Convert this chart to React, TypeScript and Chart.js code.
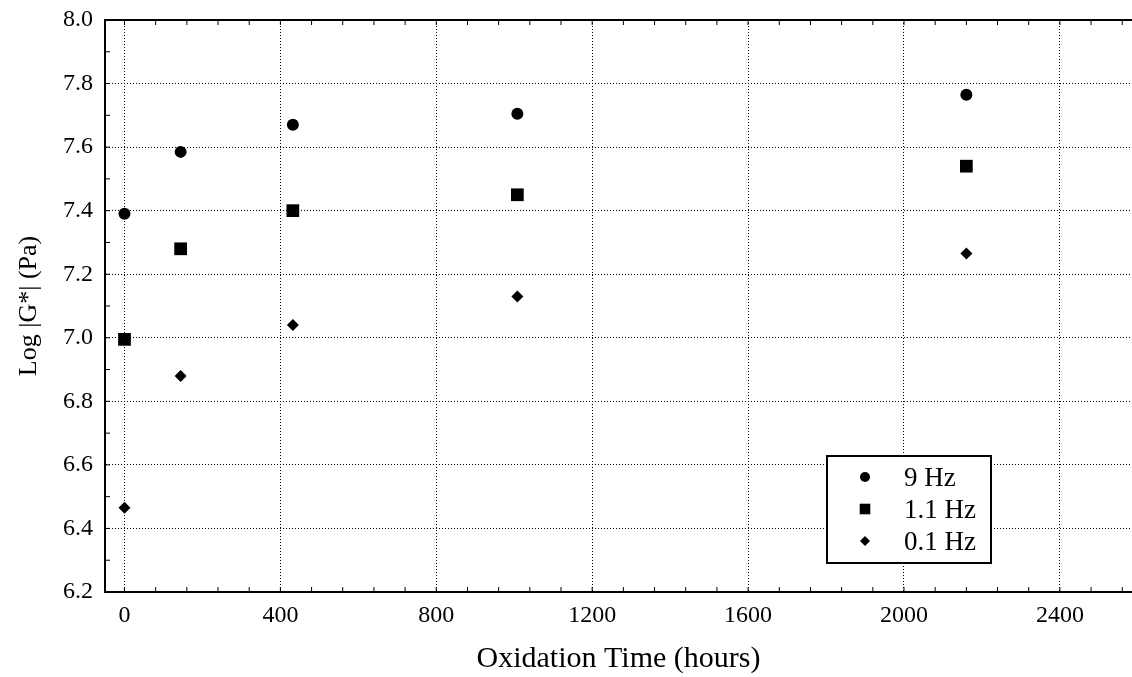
import React, { useEffect, useRef } from "react";
import { Chart, registerables } from "chart.js";

Chart.register(...registerables);

const xValues = [0, 144, 432, 1008, 2160];
const hz9 = [7.39, 7.585, 7.67, 7.705, 7.765];
const hz11 = [6.995, 7.28, 7.4, 7.45, 7.54];
const hz01 = [6.465, 6.88, 7.04, 7.13, 7.265];
const seriesLabels = ["9 Hz", "1.1 Hz", "0.1 Hz"];
const xTicks = [0, 400, 800, 1200, 1600, 2000, 2400];
const yTicks = [6.2, 6.4, 6.6, 6.8, 7.0, 7.2, 7.4, 7.6, 7.8, 8.0];
const xMinor = [80, 160, 240, 320, 480, 560, 640, 720, 880, 960, 1040, 1120, 1280, 1360, 1440, 1520, 1680, 1760, 1840, 1920, 2080, 2160, 2240, 2320, 2480, 2560];
const yMinor = [6.3, 6.5, 6.7, 6.9, 7.1, 7.3, 7.5, 7.7, 7.9];

const FONT = "'Liberation Serif', 'Times New Roman', serif";

function drawMarker(ctx: CanvasRenderingContext2D, style: string, x: number, y: number, r: number) {
  ctx.beginPath();
  if (style === "circle") {
    ctx.arc(x, y, r, 0, Math.PI * 2);
  } else if (style === "rect") {
    const s = r * Math.SQRT1_2;
    ctx.rect(x - s, y - s, 2 * s, 2 * s);
  } else {
    ctx.moveTo(x - r, y);
    ctx.lineTo(x, y - r);
    ctx.lineTo(x + r, y);
    ctx.lineTo(x, y + r);
    ctx.closePath();
  }
  ctx.fill();
}

const framePlugin = {
  id: "frame",
  afterDraw(chart: any) {
    const { ctx, chartArea } = chart;
    const xs = chart.scales.x;
    const ys = chart.scales.y;
    ctx.save();
    ctx.strokeStyle = "#000";
    ctx.lineWidth = 2;
    ctx.beginPath();
    ctx.moveTo(chartArea.left - 1, chartArea.top);
    ctx.lineTo(chartArea.right, chartArea.top);
    ctx.stroke();
    ctx.lineWidth = 1;
    ctx.beginPath();
    const tl = 5;
    [...xMinor, ...xTicks].forEach((v) => {
      const px = xs.getPixelForValue(v);
      ctx.moveTo(px, chartArea.bottom);
      ctx.lineTo(px, chartArea.bottom - tl);
      ctx.moveTo(px, chartArea.top);
      ctx.lineTo(px, chartArea.top + tl);
    });
    [...yMinor, ...yTicks].forEach((v) => {
      const py = ys.getPixelForValue(v);
      ctx.moveTo(chartArea.left, py);
      ctx.lineTo(chartArea.left + tl, py);
    });
    ctx.stroke();

    // legend
    const bx = chartArea.left + 722;
    const by = chartArea.top + 436;
    const bw = 164;
    const bh = 107;
    ctx.fillStyle = "#fff";
    ctx.fillRect(bx, by, bw, bh);
    ctx.lineWidth = 2;
    ctx.strokeStyle = "#000";
    ctx.strokeRect(bx, by, bw, bh);
    ctx.fillStyle = "#000";
    ctx.font = `27px ${FONT}`;
    ctx.textBaseline = "middle";
    ctx.textAlign = "left";
    chart.data.datasets.forEach((ds: any, i: number) => {
      const rowY = by + 21 + i * 32;
      drawMarker(ctx, ds.pointStyle, bx + 38, rowY, ds.pointStyle === "circle" ? 5 : ds.pointStyle === "rect" ? 7.5 : 5);
      ctx.fillText(ds.label, bx + 77, rowY + 2);
    });
    ctx.restore();
  },
};

export default function App() {
  const ref = useRef<HTMLCanvasElement | null>(null);
  useEffect(() => {
    if (!ref.current) return;
    const mk = (ys: number[]) => xValues.map((x, i) => ({ x, y: ys[i] }));
    const chart = new Chart(ref.current, {
      type: "scatter",
      data: {
        datasets: [
          { label: seriesLabels[0], data: mk(hz9), pointStyle: "circle", pointRadius: 6, backgroundColor: "#000", borderColor: "#000", borderWidth: 0 },
          { label: seriesLabels[1], data: mk(hz11), pointStyle: "rect", pointRadius: 9, backgroundColor: "#000", borderColor: "#000", borderWidth: 0 },
          { label: seriesLabels[2], data: mk(hz01), pointStyle: "rectRot", pointRadius: 6, backgroundColor: "#000", borderColor: "#000", borderWidth: 0 },
        ],
      },
      options: {
        animation: false,
        responsive: true,
        maintainAspectRatio: false,
        layout: { autoPadding: false, padding: { top: 20, right: 0, left: 0, bottom: 0 } },
        plugins: { legend: { display: false }, tooltip: { enabled: false } },
        scales: {
          x: {
            type: "linear",
            min: -50,
            max: 2585,
            afterBuildTicks: (s: any) => {
              s.ticks = xTicks.map((v) => ({ value: v }));
            },
            afterFit: (s: any) => {
              s.height = 85;
              s.paddingLeft = 0;
              s.paddingRight = 0;
              s.paddingTop = 0;
              s.paddingBottom = 0;
            },
            ticks: { color: "#000", font: { family: FONT, size: 24 }, padding: 9, maxRotation: 0, autoSkip: false, callback: (v: any) => String(v) },
            grid: { color: "#000", lineWidth: 1, drawTicks: false },
            border: { display: true, color: "#000", width: 2, dash: [1, 2] },
            title: { display: true, text: "Oxidation Time (hours)", color: "#000", font: { family: FONT, size: 30, weight: "normal" }, padding: { top: 0, bottom: 0 } },
          },
          y: {
            type: "linear",
            min: 6.2,
            max: 8.0,
            afterBuildTicks: (s: any) => {
              s.ticks = yTicks.map((v) => ({ value: v }));
            },
            afterFit: (s: any) => {
              s.width = 105;
              s.paddingLeft = 0;
              s.paddingRight = 0;
              s.paddingTop = 0;
              s.paddingBottom = 0;
            },
            ticks: { color: "#000", font: { family: FONT, size: 24 }, padding: 12, callback: (v: any) => Number(v).toFixed(1) },
            grid: { color: "#000", lineWidth: 1, drawTicks: false },
            border: { display: true, color: "#000", width: 2, dash: [1, 2] },
            title: { display: true, text: "Log |G*| (Pa)", color: "#000", font: { family: FONT, size: 26, weight: "normal" }, padding: { top: 14, bottom: 0 } },
          },
        },
      },
      plugins: [framePlugin],
    });
    return () => chart.destroy();
  }, []);
  return (
    <div style={{ position: "absolute", left: 0, top: 0, width: 1132, height: 677, background: "#fff" }}>
      <canvas ref={ref} />
    </div>
  );
}
